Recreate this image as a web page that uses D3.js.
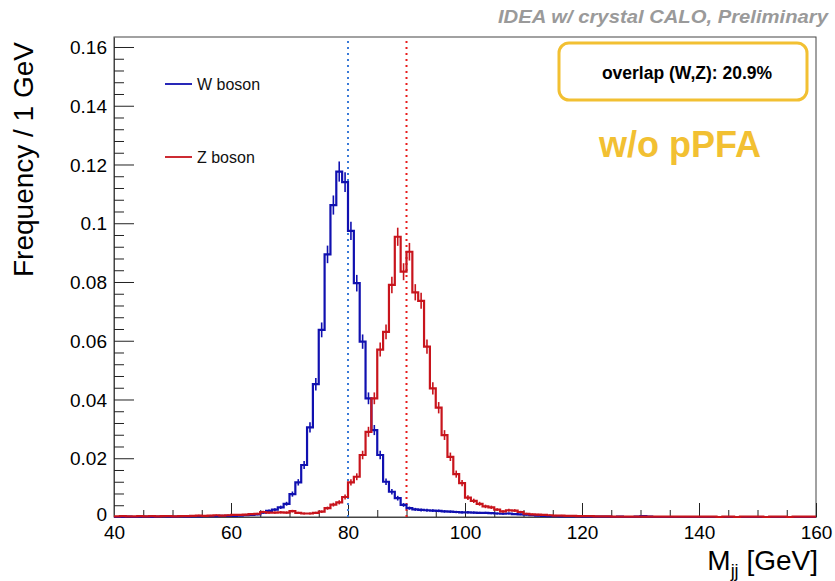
<!DOCTYPE html>
<html>
<head>
<meta charset="utf-8">
<script src="https://cdn.jsdelivr.net/npm/d3@7"></script>
<style>
  html, body { margin: 0; padding: 0; background: #fff; }
  svg { display: block; }
  text { font-family: "Liberation Sans", Arial, Helvetica, sans-serif; }
</style>
</head>
<body>
<svg id="chart" width="835" height="581"></svg>
<script>
// Dijet invariant mass, 1 GeV bins from 40 to 160 GeV (low edge of first bin)
const binLow = 40;
const binWidth = 1;

// W boson sample, normalised frequency per 1 GeV bin
const wBoson = [
  0, 0, 0.0001, 0, 0.0001, 0.0001, 0, 0.0001, 0.0002, 0.0001,
  0.0001, 0.0002, 0.0001, 0.0002, 0.0002, 0.0003, 0.0003, 0.0003, 0.0004, 0.0004,
  0.0004, 0.0005, 0.0006, 0.0007, 0.0009, 0.0015, 0.0021, 0.0025, 0.0033, 0.0045,
  0.0078, 0.0118, 0.0177, 0.0305, 0.0452, 0.0637, 0.0894, 0.1062, 0.1176, 0.1140,
  0.0974, 0.0796, 0.0597, 0.0404, 0.0296, 0.0211, 0.0120, 0.0086, 0.0064, 0.0041,
  0.0030, 0.0026, 0.0024, 0.0023, 0.0022, 0.0021, 0.0019, 0.0018, 0.0017, 0.0016,
  0.0016, 0.0015, 0.0014, 0.0014, 0.0013, 0.0012, 0.0011, 0.0012, 0.0010, 0.0009,
  0.0008, 0.0006, 0.0005, 0.0004, 0.0003, 0.0003, 0.0002, 0.0002, 0.0002, 0.0002,
  0.0001, 0.0001, 0.0001, 0.0001, 0.0001, 0, 0.0001, 0, 0, 0.0001,
  0.0003, 0.0001, 0, 0, 0, 0, 0, 0, 0, 0,
  0, 0, 0, 0, 0, 0, 0, 0, 0, 0,
  0, 0, 0, 0, 0, 0, 0, 0, 0, 0
];

// Z boson sample, normalised frequency per 1 GeV bin
const zBoson = [
  0.0002, 0.0003, 0.0002, 0.0002, 0.0003, 0.0002, 0.0003, 0.0002, 0.0003, 0.0003,
  0.0002, 0.0003, 0.0003, 0.0004, 0.0005, 0.0004, 0.0005, 0.0006, 0.0005, 0.0006,
  0.0007, 0.0007, 0.0008, 0.0010, 0.0011, 0.0017, 0.0015, 0.0015, 0.0016, 0.0015,
  0.0020, 0.0014, 0.0012, 0.0012, 0.0014, 0.0018, 0.0030, 0.0042, 0.0050, 0.0068,
  0.0118, 0.0137, 0.0211, 0.0290, 0.0404, 0.0570, 0.0630, 0.0790, 0.0954, 0.0835,
  0.0903, 0.0765, 0.0736, 0.0580, 0.0438, 0.0372, 0.0279, 0.0205, 0.0146, 0.0115,
  0.0066, 0.0055, 0.0045, 0.0036, 0.0033, 0.0025, 0.0019, 0.0023, 0.0022, 0.0017,
  0.0011, 0.0009, 0.0008, 0.0007, 0.0006, 0.0005, 0.0005, 0.0004, 0.0004, 0.0003,
  0.0003, 0.0003, 0.0002, 0.0002, 0.0002, 0.0001, 0.0001, 0.0001, 0.0001, 0.0001,
  0.0001, 0.0001, 0.0001, 0.0001, 0.0001, 0.0001, 0.0001, 0.0001, 0.0001, 0.0001,
  0.0001, 0.0001, 0.0001, 0, 0.0001, 0.0001, 0, 0.0001, 0.0001, 0.0001,
  0.0001, 0, 0.0001, 0.0001, 0.0001, 0, 0.0001, 0.0001, 0.0001, 0.0001
];

// Effective sample size used for the statistical error bars
const effectiveEvents = 10000;

// Reference masses marked with dotted lines
const referenceMasses = [80, 90];

const xTicksMajor = [40, 60, 80, 100, 120, 140, 160];
const yTicksMajor = [0, 0.02, 0.04, 0.06, 0.08, 0.1, 0.12, 0.14, 0.16];
const yTickLabels = ["0", "0.02", "0.04", "0.06", "0.08", "0.1", "0.12", "0.14", "0.16"];

const legendLabels = ["W boson", "Z boson"];
const overlapText = "overlap (W,Z): 20.9%";
const tagText = "w/o pPFA";
const headerText = "IDEA w/ crystal CALO, Preliminary";

const colW = "#1010b0";
const colZ = "#c8141c";
const colWRef = "#3a7ad8";
const colZRef = "#e81c1c";
const gold = "#f2c032";

const svg = d3.select("#chart");
const frame = { left: 114, right: 816, top: 37, bottom: 517 };

const x = d3.scaleLinear().domain([40, 160]).range([frame.left, frame.right]);
const y = d3.scaleLinear().domain([0, 0.1634]).range([frame.bottom, frame.top]);

// frame box
svg.append("rect")
  .attr("x", frame.left).attr("y", frame.top)
  .attr("width", frame.right - frame.left).attr("height", frame.bottom - frame.top)
  .attr("fill", "none").attr("stroke", "#444").attr("stroke-width", 1);

// x axis: labelled ticks every 20 GeV, small ticks every 5 GeV, drawn inside
const xAxis = d3.axisBottom(x)
  .tickValues(d3.range(40, 160.01, 5))
  .tickSize(0)
  .tickFormat(() => "");
const gx = svg.append("g").attr("transform", `translate(0,${frame.bottom})`).call(xAxis);
gx.select(".domain").attr("stroke", "#444");
gx.selectAll(".tick line")
  .attr("y2", d => (xTicksMajor.includes(d) ? -14 : -7))
  .attr("stroke", "#222");
gx.selectAll(".tick").filter(d => xTicksMajor.includes(d))
  .append("text")
  .attr("y", 22)
  .attr("text-anchor", "middle")
  .attr("fill", "#000")
  .style("font-size", "19px")
  .text(d => d);

// y axis: labelled ticks every 0.02, small ticks every 0.004
const yMinor = d3.range(0, 0.1634, 0.004).map(v => +v.toFixed(3));
const yAxis = d3.axisLeft(y)
  .tickValues(yMinor)
  .tickSize(0)
  .tickFormat(() => "");
const gy = svg.append("g").attr("transform", `translate(${frame.left},0)`).call(yAxis);
gy.select(".domain").attr("stroke", "#444");
const isMajorY = d => yTicksMajor.some(t => Math.abs(t - d) < 1e-6);
gy.selectAll(".tick line")
  .attr("x2", d => (isMajorY(d) ? 20 : 10))
  .attr("stroke", "#222");
gy.selectAll(".tick").filter(d => isMajorY(d))
  .append("text")
  .attr("x", -7)
  .attr("dy", d => (d === 0 ? "0.2em" : "0.35em"))
  .attr("text-anchor", "end")
  .attr("fill", "#000")
  .style("font-size", "19px")
  .text(d => yTickLabels[yTicksMajor.findIndex(t => Math.abs(t - d) < 1e-6)]);

// dotted reference lines at the W and Z masses
const refColors = [colWRef, colZRef];
svg.selectAll("line.ref").data(referenceMasses).enter().append("line")
  .attr("class", "ref")
  .attr("x1", d => x(d)).attr("x2", d => x(d))
  .attr("y1", frame.top + 4).attr("y2", frame.bottom)
  .attr("stroke", (d, i) => refColors[i])
  .attr("stroke-width", 2)
  .attr("stroke-dasharray", "2,4");

// histogram outline + statistical error bars
function drawHist(values, color) {
  const pts = values.map((v, i) => [binLow + i * binWidth, v]);
  pts.push([binLow + values.length * binWidth, values[values.length - 1]]);
  const line = d3.line()
    .x(d => x(d[0])).y(d => y(d[1]))
    .curve(d3.curveStepAfter);
  svg.append("path")
    .attr("d", line(pts))
    .attr("fill", "none")
    .attr("stroke", color)
    .attr("stroke-width", 2.2)
    .attr("stroke-linejoin", "miter");
  const errs = values.map((v, i) => ({ c: binLow + (i + 0.5) * binWidth, v, e: Math.sqrt(v / effectiveEvents) }))
    .filter(d => d.v > 0);
  svg.append("g").selectAll("line").data(errs).enter().append("line")
    .attr("x1", d => x(d.c)).attr("x2", d => x(d.c))
    .attr("y1", d => y(d.v - d.e)).attr("y2", d => y(d.v + d.e))
    .attr("stroke", color)
    .attr("stroke-width", 1.6);
}
drawHist(wBoson, colW);
drawHist(zBoson, colZ);

// legend
const legendColors = [colW, colZ];
const legendY = [84, 157];
legendLabels.forEach((lab, i) => {
  svg.append("line")
    .attr("x1", 165).attr("x2", 192)
    .attr("y1", legendY[i]).attr("y2", legendY[i])
    .attr("stroke", legendColors[i]).attr("stroke-width", 1.8);
  svg.append("text")
    .attr("x", 197).attr("y", legendY[i]).attr("dy", "0.35em")
    .style("font-size", "16px").attr("fill", "#111")
    .text(lab);
});

// overlap box
svg.append("rect")
  .attr("x", 559).attr("y", 43).attr("width", 248).attr("height", 57)
  .attr("rx", 10).attr("ry", 10)
  .attr("fill", "#fff").attr("stroke", gold).attr("stroke-width", 3);
svg.append("text")
  .attr("x", 687).attr("y", 73).attr("dy", "0.35em")
  .attr("text-anchor", "middle")
  .style("font-size", "17.5px").style("font-weight", "bold").attr("fill", "#000")
  .text(overlapText);

svg.append("text")
  .attr("x", 680).attr("y", 157)
  .attr("text-anchor", "middle")
  .style("font-size", "36px").style("font-weight", "bold").attr("fill", gold)
  .text(tagText);

// header
svg.append("text")
  .attr("x", 828).attr("y", 23)
  .attr("text-anchor", "end")
  .attr("textLength", 330).attr("lengthAdjust", "spacingAndGlyphs")
  .style("font-size", "19px").style("font-weight", "bold").style("font-style", "italic")
  .attr("fill", "#9a9a9a")
  .text(headerText);

// axis titles
const xt = svg.append("text")
  .attr("x", 818).attr("y", 570)
  .attr("text-anchor", "end")
  .style("font-size", "28px").attr("fill", "#000");
xt.append("tspan").text("M");
xt.append("tspan").attr("dy", 7).style("font-size", "18px").text("jj");
xt.append("tspan").attr("dy", -7).text(" [GeV]");

svg.append("text")
  .attr("transform", "translate(33,42) rotate(-90)")
  .attr("text-anchor", "end")
  .style("font-size", "28px").attr("fill", "#000")
  .text("Frequency / 1 GeV");
</script>
</body>
</html>
